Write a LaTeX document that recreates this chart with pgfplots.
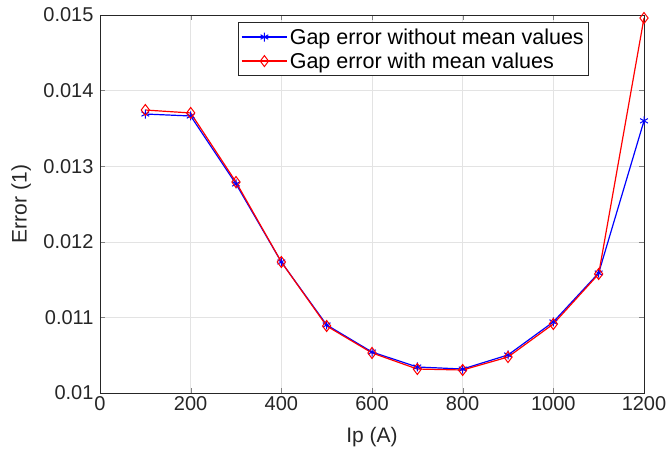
\documentclass[border=0pt]{standalone}
\usepackage{pgfplots}
\pgfplotsset{compat=1.18}
\usepackage{fontspec}
\setmainfont{Liberation Sans}
\begin{document}
\begin{tikzpicture}
\begin{axis}[
    scale only axis,
    width=544pt, height=378pt,
    xmin=0, xmax=1200,
    ymin=0.01, ymax=0.015,
    xtick={0,200,400,600,800,1000,1200},
    xticklabels={0,200,400,600,800,1000,1200},
    ytick={0.01,0.011,0.012,0.013,0.014,0.015},
    yticklabels={0.01,0.011,0.012,0.013,0.014,0.015},
    scaled y ticks=false,
    xlabel={Ip (A)},
    ylabel={Error (1)},
    every tick label/.style={font=\fontsize{20}{24}\selectfont, color=black!85},
    yticklabel style={xshift=-3pt},
    label style={font=\fontsize{21}{25}\selectfont, color=black!85},
    xlabel style={at={(axis description cs:0.5,-0.1164)}, anchor=center},
    ylabel style={at={(axis description cs:-0.145,0.5)}, anchor=center},
    grid=major,
    grid style={gray!22, line width=0.5pt},
    tick align=inside,
    major tick length=5pt,
    axis line style={black!85, line width=0.6pt},
    legend style={at={(0.899,0.981)}, anchor=north east, font=\fontsize{21.5}{25}\selectfont,
        draw=black!85, line width=0.6pt, inner xsep=3pt, inner ysep=4pt, row sep=3pt},
    legend cell align=left,
    legend image code/.code={
        \draw[mark repeat=2, mark phase=2] plot coordinates {(0cm,0cm) (0.8cm,0cm) (1.6cm,0cm)};
    },
]
\addplot[color=blue, line width=1.2pt, mark=asterisk, mark size=4.5pt, mark options={line width=1pt}]
    coordinates {
    (100,0.01369)(200,0.013664)(300,0.012765)(400,0.011733)(500,0.0109)(600,0.010542)
    (700,0.010344)(800,0.010317)(900,0.010503)(1000,0.01094)(1100,0.011587)(1200,0.0136)
    };
\addplot[color=red, line width=1.2pt, mark=diamond, mark size=5.5pt, mark options={line width=1pt, fill=none}]
    coordinates {
    (100,0.013743)(200,0.013704)(300,0.01279)(400,0.011733)(500,0.010886)(600,0.01053)
    (700,0.010317)(800,0.010304)(900,0.010476)(1000,0.010913)(1100,0.011574)(1200,0.01496)
    };
\legend{Gap error without mean values, Gap error with mean values}
\end{axis}
\pgfresetboundingbox
\path[use as bounding box] ([xshift=-100pt,yshift=-71pt]current axis.south west)
    rectangle ([xshift=25pt,yshift=15pt]current axis.north east);
\end{tikzpicture}
\end{document}
